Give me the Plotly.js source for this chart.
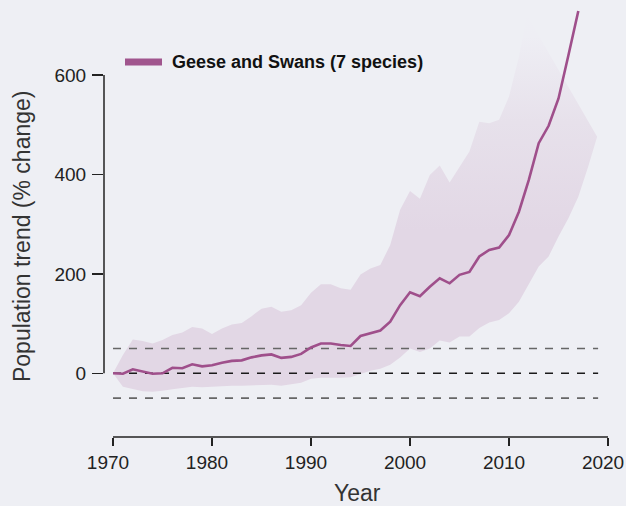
<!DOCTYPE html>
<html>
<head>
<meta charset="utf-8">
<script src="https://cdn.plot.ly/plotly-3.0.1.min.js"></script>
<style>
  html, body { margin: 0; padding: 0; background: #eeeff4; }
  #chart { width: 626px; height: 506px; }
</style>
</head>
<body>
<div id="chart"></div>
<script>
// ---- data ----
const seriesName = "Geese and Swans (7 species)";

const indexYears = [];
for (let y = 1970; y <= 2017; y++) indexYears.push(y);
const indexValues = [0, -1, 8, 4, -1, 0, 11, 10, 18, 14,
                     16, 21, 25, 26, 32, 36, 38, 31, 33, 39,
                     52, 60, 60, 57, 55, 75, 81, 86, 104, 137,
                     163, 155, 174, 191, 181, 198, 204, 235, 248, 253,
                     278, 325, 389, 463, 498, 553, 640, 729];

const upperYears = [];
for (let y = 1970; y <= 2011; y++) upperYears.push(y);
const upperValues = [0, 37, 68, 65, 60, 67, 77, 82, 93, 90,
                     79, 90, 98, 101, 115, 130, 134, 124, 127, 137,
                     162, 179, 179, 171, 168, 199, 211, 218, 258, 329,
                     367, 351, 399, 418, 384, 416, 446, 506, 503, 510,
                     557, 637];

// where the faded band is cut at its top-right
const bandEdgeYears = [2011.8, 2018.9];
const bandEdgeValues = [721, 476];

const lowerYears = [];
for (let y = 1970; y <= 2018; y++) lowerYears.push(y);
const lowerValues = [0, -27, -32, -36, -37, -35, -32, -29, -27, -28,
                     -27, -26, -25, -25, -24, -24, -23, -25, -22, -19,
                     -11, -9, -9, -9, -8, -1, 5, 9, 17, 32,
                     50, 43, 50, 66, 62, 74, 74, 91, 102, 107,
                     121, 144, 178, 215, 235, 275, 312, 355, 416];

const refLevels = [50, 0, -50];
const refColors = ["#666666", "#1a1a1a", "#666666"];
const refStartYear = 1970;
const refEndYear = 2019;

const xTicks = [1970, 1980, 1990, 2000, 2010, 2020];
const yTicks = [0, 200, 400, 600];

// ---- styles ----
const bg = "#eeeff4";
const bandColor = "#e2d7e5";
const lineColor = "#9f4f8b";
const inkColor = "#222222";

const bandX = upperYears.concat(bandEdgeYears, lowerYears.slice().reverse());
const bandY = upperValues.concat(bandEdgeValues, lowerValues.slice().reverse());

const traces = [];
traces.push({
  type: "scatter", mode: "lines", x: bandX, y: bandY,
  fill: "toself", line: { width: 0, color: bandColor },
  fillcolor: bandColor,
  fillgradient: {
    type: "vertical",
    start: -40, stop: 740,
    colorscale: [[0, bandColor], [0.42, bandColor], [0.7, "#e7e1eb"], [0.92, "#eeeef4"], [1, "#eeeff4"]]
  },
  hoverinfo: "skip", showlegend: false
});
refLevels.forEach((lvl, i) => {
  traces.push({
    type: "scatter", mode: "lines",
    x: [refStartYear, refEndYear], y: [lvl, lvl],
    line: { color: refColors[i], width: 1.6, dash: "8px,8px" },
    hoverinfo: "skip", showlegend: false
  });
});
traces.push({
  type: "scatter", mode: "lines", x: indexYears, y: indexValues,
  name: seriesName,
  line: { color: lineColor, width: 2.6 },
  showlegend: false
});

const layout = {
  width: 626, height: 506,
  margin: { l: 104, r: 6, t: 4, b: 69 },
  paper_bgcolor: bg, plot_bgcolor: bg,
  font: { family: "Liberation Sans, Arial, sans-serif", color: inkColor },
  showlegend: false,
  xaxis: {
    range: [1969.09, 2021.21],
    tickvals: xTicks, ticktext: xTicks.map(String),
    ticks: "outside", ticklen: 8, tickwidth: 1.5, tickcolor: inkColor,
    ticklabelshift: -5,
    showline: false, showgrid: false, zeroline: false,
    tickfont: { size: 19, color: inkColor },
    fixedrange: true
  },
  yaxis: {
    range: [-128.2, 743.0],
    tickvals: yTicks, ticktext: yTicks.map(String),
    ticks: "outside", ticklen: 11, tickwidth: 1.5, tickcolor: inkColor,
    ticklabelstandoff: 2,
    showline: false, showgrid: false, zeroline: false,
    tickfont: { size: 19, color: inkColor },
    fixedrange: true
  },
  shapes: [
    { type: "line", xref: "x", yref: "paper", x0: xTicks[0], x1: xTicks[xTicks.length - 1], y0: 0, y1: 0,
      line: { color: inkColor, width: 1.5 } },
    { type: "line", xref: "paper", yref: "y", x0: 0, x1: 0, y0: yTicks[0], y1: yTicks[yTicks.length - 1],
      line: { color: inkColor, width: 1.5 } },
    { type: "line", xref: "paper", yref: "paper", x0: 0.0407, x1: 0.1124, y0: 0.866, y1: 0.866,
      line: { color: "#a0558d", width: 7 } }
  ],
  annotations: [
    { text: "<b>" + seriesName + "</b>", xref: "paper", yref: "paper", x: 0.1279, y: 0.866,
      xanchor: "left", yanchor: "middle", showarrow: false,
      font: { size: 18, color: "#111111" } },
    { text: "Population trend (% change)", xref: "paper", yref: "paper", x: -0.159, y: 0.464,
      xanchor: "center", yanchor: "middle", textangle: -90, showarrow: false,
      font: { size: 23, color: "#333333" } },
    { text: "Year", xref: "paper", yref: "paper", x: 0.492, y: -0.129,
      xanchor: "center", yanchor: "middle", showarrow: false,
      font: { size: 23, color: "#333333" } }
  ]
};

Plotly.newPlot("chart", traces, layout, { displayModeBar: false, staticPlot: true });
</script>
</body>
</html>
